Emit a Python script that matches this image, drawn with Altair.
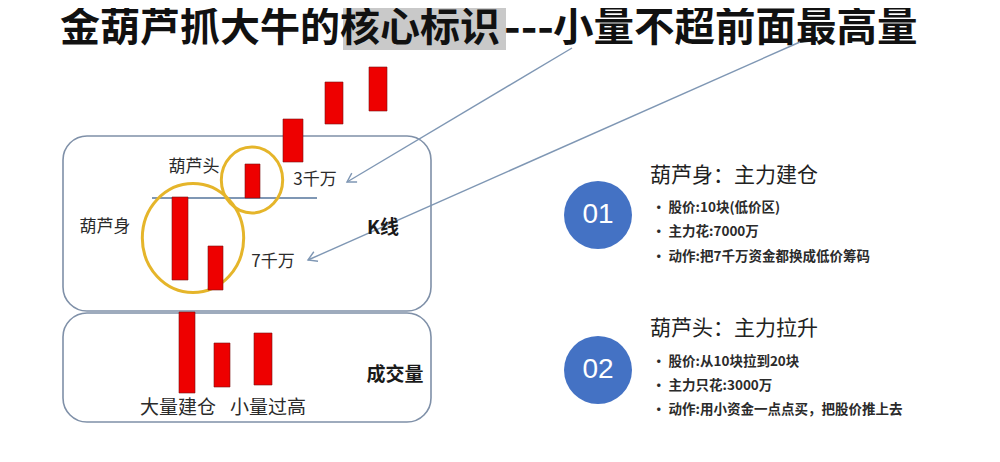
import altair as alt
import pandas as pd
import numpy as np

# ---------------- data (diagram units: x to the right, y downward) ----------------
title_parts = ["金葫芦抓大牛的核心标识", "---", "小量不超前面最高量"]
title_part_x = [60, 529, 553]
title_part_y = [29, 29, 29]
highlight_span = [343, 506, 8, 50]          # x1, x2, y1, y2 of grey highlight

# K-line candles (body left, right, top, bottom)
candle_left = [172, 208, 245, 283, 325, 369]
candle_right = [188, 223, 260, 303, 343, 387]
candle_top = [197, 246, 164, 119, 82, 67]
candle_bottom = [280, 290, 198, 162, 124, 111]

# volume bars
vol_left = [179, 214, 254]
vol_right = [195, 230, 272]
vol_top = [312, 343, 333]
vol_bottom = [393, 387, 385]

# panels: K-line panel, volume panel
panel_x1 = [63, 63]
panel_x2 = [431, 431]
panel_y1 = [136, 313]
panel_y2 = [311, 422]

# previous-high line
level_x = [152, 317]
level_y = [198, 198]

# gourd outlines (center x, center y, diameter)
body_ring = [193, 238, 109]
head_ring = [252, 180, 66]

# arrows from title (start x, start y, end x, end y)
arrow_x1 = [572, 800]
arrow_y1 = [48, 42]
arrow_x2 = [347, 308]
arrow_y2 = [182, 260]

# left labels
label_text = ["葫芦头", "葫芦身", "3千万", "7千万"]
label_x = [194, 105, 315, 273]
label_y = [167, 227, 180, 262]
bold_text = ["K线", "成交量"]
bold_x = [383, 395]
bold_y = [228, 375]
vol_text = ["大量建仓", "小量过高"]
vol_text_x = [178, 268]
vol_text_y = [408, 408]

# right side
num_text = ["01", "02"]
num_x = [598, 598]
num_y = [215, 370]
head_text = ["葫芦身：主力建仓", "葫芦头：主力拉升"]
head_x = [650, 650]
head_y = [176, 329]
bullet_text = ["股价:10块(低价区)", "主力花:7000万", "动作:把7千万资金都换成低价筹码",
               "股价:从10块拉到20块", "主力只花:3000万", "动作:用小资金一点点买，把股价推上去"]
bullet_x = [652] * 6
bullet_y = [208, 232, 257, 362, 386, 410]

# ---------------- scales ----------------
xs = alt.Scale(domain=[8, 992], nice=False, zero=False)
ys = alt.Scale(domain=[8, 454], nice=False, zero=False, reverse=True)


def X(f):
    return alt.X(f"{f}:Q", scale=xs, axis=None)


def Y(f):
    return alt.Y(f"{f}:Q", scale=ys, axis=None)


CJK = "Noto Sans CJK SC"

# highlight behind title
hl = alt.Chart(pd.DataFrame({"x": [highlight_span[0]], "x2": [highlight_span[1]],
                             "y": [highlight_span[2]], "y2": [highlight_span[3]]})).mark_rect(
    color="#C9C9C9").encode(x=X("x"), x2="x2", y=Y("y"), y2="y2")

title_df = pd.DataFrame({"x": title_part_x, "y": title_part_y, "t": title_parts})
title_a = alt.Chart(title_df.iloc[[0]]).mark_text(
    font=CJK, fontSize=40, fontWeight="bold", align="left", baseline="middle", color="#111111"
).encode(x=X("x"), y=Y("y"), text="t:N")
title_b = alt.Chart(title_df.iloc[[1]]).mark_text(
    font=CJK, fontSize=45, fontWeight="bold", align="center", baseline="middle", color="#111111"
).encode(x=X("x"), y=Y("y"), text="t:N")
title_c = alt.Chart(title_df.iloc[[2]]).mark_text(
    font=CJK, fontSize=40.5, fontWeight="bold", align="left", baseline="middle", color="#111111"
).encode(x=X("x"), y=Y("y"), text="t:N")

panels = alt.Chart(pd.DataFrame({"x": panel_x1, "x2": panel_x2, "y": panel_y1, "y2": panel_y2})).mark_rect(
    fill="#ffffff", fillOpacity=0, stroke="#7F90A8", strokeWidth=1.6, cornerRadius=24
).encode(x=X("x"), x2="x2", y=Y("y"), y2="y2")

level = alt.Chart(pd.DataFrame({"x": level_x, "y": level_y})).mark_line(
    color="#7F97B4", strokeWidth=2).encode(x=X("x"), y=Y("y"))

rings = alt.Chart(pd.DataFrame({"x": [body_ring[0], head_ring[0]], "y": [body_ring[1], head_ring[1]],
                                "d": [body_ring[2], head_ring[2]]})).transform_calculate(
    s="datum.d * datum.d").mark_point(
    shape="M-0.93,0 A0.93,1 0 1,0 0.93,0 A0.93,1 0 1,0 -0.93,0 Z", filled=False,
    color="#E5B52A", strokeWidth=3, opacity=1
).encode(x=X("x"), y=Y("y"), size=alt.Size("s:Q", scale=None, legend=None))

candles = alt.Chart(pd.DataFrame({"x": candle_left, "x2": candle_right, "y": candle_top, "y2": candle_bottom})).mark_rect(
    color="#EE0000", stroke="#7a1010", strokeWidth=0.6
).encode(x=X("x"), x2="x2", y=Y("y"), y2="y2")

vols = alt.Chart(pd.DataFrame({"x": vol_left, "x2": vol_right, "y": vol_top, "y2": vol_bottom})).mark_rect(
    color="#EE0000", stroke="#7a1010", strokeWidth=0.6
).encode(x=X("x"), x2="x2", y=Y("y"), y2="y2")

arrow_df = pd.DataFrame({"x": arrow_x1, "y": arrow_y1, "x2": arrow_x2, "y2": arrow_y2})
arrow_df["ang"] = (np.degrees(np.arctan2(arrow_df["x2"] - arrow_df["x"],
                                         -(arrow_df["y2"] - arrow_df["y"]))) + 360) % 360
arrow_lines = alt.Chart(arrow_df).mark_rule(color="#7F97B4", strokeWidth=1.4).encode(
    x=X("x"), y=Y("y"), x2="x2", y2="y2")
arrow_heads = alt.Chart(arrow_df).mark_point(
    shape="M-0.6,1 L0,0 L0.6,1", filled=False, color="#7F97B4", strokeWidth=1.4, opacity=1
).encode(x=X("x2"), y=Y("y2"), angle=alt.Angle("ang:Q", scale=None), size=alt.value(300))

labels = alt.Chart(pd.DataFrame({"x": label_x, "y": label_y, "t": label_text})).mark_text(
    font=CJK, fontSize=17, color="#2b2b2b", align="center", baseline="middle"
).encode(x=X("x"), y=Y("y"), text="t:N")

bold_labels = alt.Chart(pd.DataFrame({"x": bold_x, "y": bold_y, "t": bold_text})).mark_text(
    font=CJK, fontSize=19, fontWeight="bold", color="#1a1a1a", align="center", baseline="middle"
).encode(x=X("x"), y=Y("y"), text="t:N")

vol_labels = alt.Chart(pd.DataFrame({"x": vol_text_x, "y": vol_text_y, "t": vol_text})).mark_text(
    font=CJK, fontSize=19, color="#2b2b2b", align="center", baseline="middle"
).encode(x=X("x"), y=Y("y"), text="t:N")

num_circles = alt.Chart(pd.DataFrame({"x": num_x, "y": num_y})).mark_point(
    shape="circle", filled=True, color="#4472C4", opacity=1, size=4624
).encode(x=X("x"), y=Y("y"))

nums = alt.Chart(pd.DataFrame({"x": num_x, "y": num_y, "t": num_text})).mark_text(
    font="Liberation Sans", fontSize=28, color="#ffffff", align="center", baseline="middle"
).encode(x=X("x"), y=Y("y"), text="t:N")

heads = alt.Chart(pd.DataFrame({"x": head_x, "y": head_y, "t": head_text})).mark_text(
    font=CJK, fontSize=21, color="#222222", align="left", baseline="middle"
).encode(x=X("x"), y=Y("y"), text="t:N")

bullets = alt.Chart(pd.DataFrame({"x": bullet_x, "y": bullet_y, "t": ["•  " + t for t in bullet_text]})).mark_text(
    font=CJK, fontSize=13.5, fontWeight="bold", color="#2b2b2b", align="left", baseline="middle"
).encode(x=X("x"), y=Y("y"), text="t:N")

chart = alt.layer(
    hl, title_a, title_b, title_c, panels, level, rings, candles, vols, arrow_lines, arrow_heads,
    labels, bold_labels, vol_labels, num_circles, nums, heads, bullets
).properties(
    width=984, height=446, padding=0, autosize=alt.AutoSizeParams(type="none"), background="#ffffff"
).configure_view(stroke=None)

chart.save("out.html", embed_options={"renderer": "svg", "actions": False})
